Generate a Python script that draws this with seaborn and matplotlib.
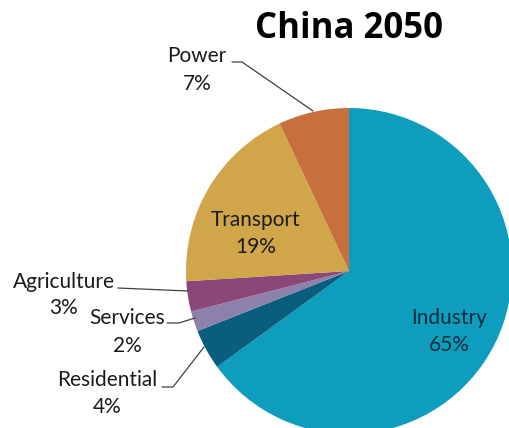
import matplotlib
matplotlib.use("Agg")
import matplotlib.pyplot as plt
import seaborn as sns

# data
sectors = ["Industry", "Residential", "Services", "Agriculture", "Transport", "Power"]
shares = [65, 4, 2, 3, 19, 7]
title = "China 2050"

palette = sns.color_palette(["#0e9dbd", "#0b5d7e", "#8d80ab", "#8a4778", "#d1a64b", "#c76f3d"])

sns.set_theme(style="white")
plt.rcParams["font.family"] = ["Lato", "DejaVu Sans"]

W, H = 510, 428
fig = plt.figure(figsize=(W / 100, H / 100), dpi=100)
ax = fig.add_axes([0, 0, 1, 1])

def py(y):
    # pixel row -> data y
    return H - y

center = (349, py(271))
ax.pie(shares, colors=palette, startangle=90, counterclock=False,
       center=center, radius=163, frame=True,
       wedgeprops=dict(linewidth=0))
ax.set_xlim(0, W)
ax.set_ylim(0, H)
ax.set_aspect("equal")
ax.axis("off")

ax.text(349, py(29), title, ha="center", va="center", fontsize=25,
        fontweight="bold", color="black", family=["Open Sans", "DejaVu Sans"])

txt = dict(ha="center", va="center", fontsize=15, color="#1a1a1a")
# label placements (pixels): x, name line, value line
label_pos = {
    "Power": (197, 56, 84),
    "Transport": (256, 220, 247),
    "Agriculture": (64, 282, 308),
    "Services": (127, 318, 346),
    "Residential": (107, 380, 407),
}
for name, share in zip(sectors, shares):
    if name == "Industry":
        ax.text(449, py(318), name, **{**txt, "color": "#0c2d3f"})
        ax.text(449, py(345), f"{share}%", **{**txt, "color": "#0c2d3f"})
        continue
    x, y1, y2 = label_pos[name]
    ax.text(x, py(y1), name, **txt)
    ax.text(x, py(y2), f"{share}%", **txt)

# leader lines
line_kw = dict(color="#404040", linewidth=0.9)
leaders = [
    ([232, 242, 313], [62, 62, 111]),
    ([118, 188], [288, 291]),
    ([167, 179, 195], [323, 323, 318]),
    ([162, 173, 204], [387, 387, 347]),
]
for xs, ys in leaders:
    ax.plot(xs, [py(v) for v in ys], **line_kw)

fig.savefig("out.png", dpi=100)
